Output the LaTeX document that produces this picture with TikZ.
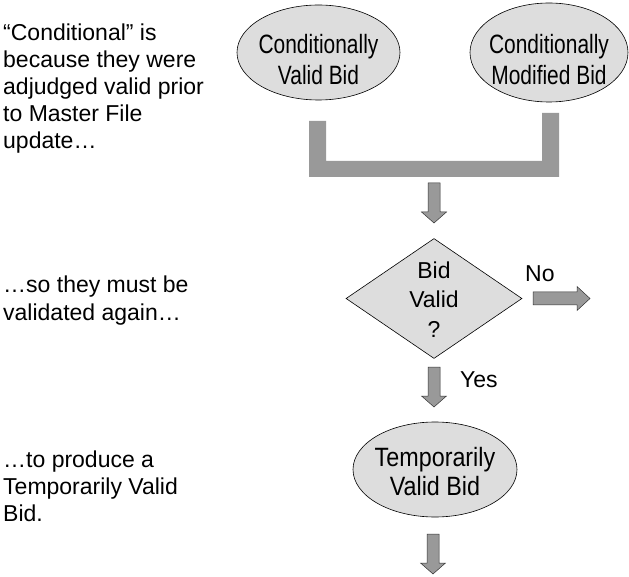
\documentclass[tikz,border=0pt]{standalone}
\usepackage{fontspec}
\setmainfont{Liberation Sans}
\newfontfamily\ovalA[FakeStretch=0.79]{Liberation Sans}
\newfontfamily\ovalB[FakeStretch=0.88]{Liberation Sans}
\usetikzlibrary{shapes.geometric}
\definecolor{ovalgray}{HTML}{DDDDDD}
\definecolor{arrowgray}{HTML}{999999}
\definecolor{edgegray}{HTML}{333333}
\newcommand\dnarrow[3]{%
  \draw[barrow] (#1-6,#2) -- (#1+6,#2) -- (#1+6,#3-11) -- (#1+12.5,#3-11)
    -- (#1,#3) -- (#1-12.5,#3-11) -- (#1-6,#3-11) -- cycle;}
\begin{document}
\begin{tikzpicture}[x=1pt,y=-1pt,
  oval/.style={ellipse, draw=black, fill=ovalgray, line width=0.6pt, inner sep=0pt},
  decision/.style={diamond, draw=black, fill=ovalgray, line width=0.6pt, inner sep=0pt},
  ovaltxtA/.style={anchor=base, inner sep=0pt, font=\ovalA\fontsize{26.5}{30}\selectfont},
  ovaltxtB/.style={anchor=base, inner sep=0pt, font=\ovalB\fontsize{26.5}{30}\selectfont},
  dtxt/.style={anchor=base, inner sep=0pt, font=\fontsize{23}{27}\selectfont},
  side/.style={anchor=base west, inner sep=0pt, font=\fontsize{23}{27}\selectfont},
  barrow/.style={draw=edgegray, fill=arrowgray, line width=0.5pt, line join=miter},
  bracket/.style={fill=arrowgray, draw=none}]
\useasboundingbox (0,0) rectangle (629,577);

% ovals
\node[oval, minimum width=163pt, minimum height=95pt] (e1) at (318.5,52.5) {};
\node[ovaltxtA] (e1a) at (318.5,53.3) {Conditionally};
\node[ovaltxtA] (e1b) at (318.5,85) {Valid Bid};

\node[oval, minimum width=158pt, minimum height=99pt] (e2) at (549,52.5) {};
\node[ovaltxtA] (e2a) at (549,53.3) {Conditionally};
\node[ovaltxtA] (e2b) at (549,85) {Modified Bid};

\node[oval, minimum width=164pt, minimum height=95pt] (e3) at (435,469.5) {};
\node[ovaltxtB] (e3a) at (435,466.7) {Temporarily};
\node[ovaltxtB] (e3b) at (435,495) {Valid Bid};

% bracket
\fill[bracket] (309,121) -- (326,121) -- (326,161) -- (542,161) -- (542,113)
  -- (559,113) -- (559,177) -- (309,177) -- cycle;

% decision
\node[decision, minimum width=176pt, minimum height=120pt] (d) at (434,298.5) {};
\node[dtxt] (d1) at (434,279) {Bid};
\node[dtxt] (d2) at (434,308) {Valid};
\node[dtxt] (d3) at (434,337) {?};

% block arrows
\dnarrow{434}{183}{223}
\dnarrow{434}{367}{407}
\dnarrow{433}{534}{574}
\draw[barrow] (533,292) -- (577,292) -- (577,286.5) -- (590,298.5) -- (577,310.5)
  -- (577,305) -- (533,305) -- cycle;

\node[dtxt, anchor=base west] (no) at (525,282) {No};
\node[dtxt, anchor=base west] (yes) at (460,387) {Yes};

% side notes
\node[side] (l1) at (3,41) {“Conditional” is};
\node[side] (l2) at (3,68) {because they were};
\node[side] (l3) at (3,95) {adjudged valid prior};
\node[side] (l4) at (3,122) {to Master File};
\node[side] (l5) at (3,149) {update…};

\node[side] (m1) at (3,293) {…so they must be};
\node[side] (m2) at (3,320) {validated again…};

\node[side] (n1) at (3,467) {…to produce a};
\node[side] (n2) at (3,494) {Temporarily Valid};
\node[side] (n3) at (3,521) {Bid.};
\end{tikzpicture}
\end{document}
